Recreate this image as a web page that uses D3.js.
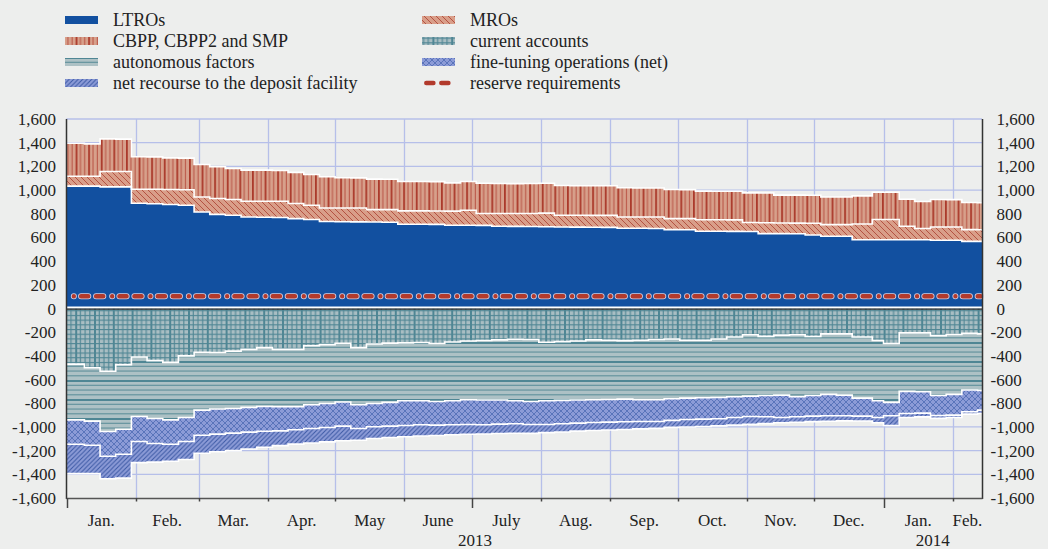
<!DOCTYPE html>
<html>
<head>
<meta charset="utf-8">
<script src="https://cdn.jsdelivr.net/npm/d3@7"></script>
<style>
  body { margin: 0; background: #edeeed; }
  svg { display: block; font-family: "Liberation Serif", "Times New Roman", serif; }
</style>
</head>
<body>
<svg id="chart" width="1048" height="549"></svg>
<script>
// Weekly observation dates (EUR billions, liquidity-providing above zero, absorbing below)
const weekDates = [
  "2013-01-01","2013-01-09","2013-01-16","2013-01-23","2013-01-30","2013-02-06","2013-02-13","2013-02-20","2013-02-27",
  "2013-03-06","2013-03-13","2013-03-20","2013-03-27","2013-04-03","2013-04-10","2013-04-17","2013-04-24",
  "2013-05-01","2013-05-08","2013-05-15","2013-05-22","2013-05-29","2013-06-05","2013-06-12","2013-06-19","2013-06-26",
  "2013-07-03","2013-07-10","2013-07-17","2013-07-24","2013-07-31","2013-08-07","2013-08-14","2013-08-21","2013-08-28",
  "2013-09-04","2013-09-11","2013-09-18","2013-09-25","2013-10-02","2013-10-09","2013-10-16","2013-10-23","2013-10-30",
  "2013-11-06","2013-11-13","2013-11-20","2013-11-27","2013-12-04","2013-12-11","2013-12-18","2013-12-27",
  "2014-01-01","2014-01-08","2014-01-15","2014-01-22","2014-01-29","2014-02-05","2014-02-12"
];
const endDate = "2014-02-14";

const ltro = [1033,1033,1027,1027,889,885,878,872,815,795,787,772,770,768,759,751,735,733,731,730,728,711,711,710,703,703,702,694,693,692,690,688,687,686,685,677,677,676,666,665,652,652,651,650,632,632,631,621,610,610,581,581,581,581,580,576,576,567,567];
const mro = [84,84,130,130,118,122,127,131,127,134,133,134,136,137,127,121,114,116,117,105,107,113,113,113,119,126,100,108,109,110,115,99,100,100,101,96,96,96,93,94,97,97,97,76,92,90,90,99,98,98,132,170,170,113,95,112,112,99,98];
const cbpp = [278,273,275,273,274,273,267,267,274,268,262,262,262,260,263,260,263,255,255,257,256,248,248,248,239,243,256,253,252,254,252,251,250,250,250,246,245,245,246,245,242,241,242,250,251,235,236,236,234,234,238,231,231,229,228,232,231,229,228];

const currentAccounts = [-470,-500,-530,-475,-410,-440,-455,-400,-370,-372,-360,-345,-330,-345,-345,-315,-305,-294,-330,-300,-292,-290,-287,-295,-283,-275,-270,-265,-260,-262,-285,-280,-275,-265,-268,-271,-268,-262,-257,-268,-268,-258,-240,-222,-235,-225,-222,-237,-214,-214,-240,-270,-295,-206,-206,-229,-220,-210,-214];
const autonomousFactors = [-470,-451,-508,-544,-502,-489,-485,-520,-488,-477,-484,-490,-497,-485,-485,-498,-497,-496,-483,-502,-501,-489,-492,-490,-496,-495,-503,-508,-519,-523,-494,-496,-498,-505,-500,-494,-502,-508,-505,-489,-486,-493,-505,-518,-499,-506,-523,-497,-511,-517,-517,-509,-498,-494,-497,-505,-505,-478,-477];
const fineTuning = [-206,-203,-209,-211,-211,-211,-206,-203,-212,-212,-208,-209,-209,-203,-194,-200,-203,-203,-200,-197,-200,-209,-203,-200,-203,-209,-209,-203,-194,-194,-200,-197,-195,-192,-191,-191,-184,-184,-183,-180,-180,-180,-175,-172,-180,-189,-169,-175,-181,-175,-152,-141,-113,-186,-180,-169,-175,-184,-167];
const depositFacility = [-248,-240,-190,-202,-178,-157,-144,-152,-152,-149,-148,-142,-136,-125,-121,-123,-121,-123,-100,-98,-96,-95,-95,-87,-84,-83,-77,-80,-80,-75,-69,-70,-67,-68,-67,-66,-62,-58,-59,-63,-62,-60,-65,-66,-58,-45,-46,-46,-46,-43,-41,-45,-82,-34,-32,-25,-20,-20,-28];

const reserveDates = ["2013-01-01", "2014-02-14"];
const reserveRequirements = [104, 104];

const yTickValues = [-1600,-1400,-1200,-1000,-800,-600,-400,-200,0,200,400,600,800,1000,1200,1400,1600];
const monthLabels = ["Jan.","Feb.","Mar.","Apr.","May","June","July","Aug.","Sep.","Oct.","Nov.","Dec.","Jan.","Feb."];
const yearLabels = ["2013","2014"];

const seriesKeys = ["ltro","mro","cbpp","currentAccounts","autonomousFactors","fineTuning","depositFacility"];
const legendLabels = {
  ltro: "LTROs", mro: "MROs", cbpp: "CBPP, CBPP2 and SMP", currentAccounts: "current accounts",
  autonomousFactors: "autonomous factors", fineTuning: "fine-tuning operations (net)",
  depositFacility: "net recourse to the deposit facility", reserve: "reserve requirements"
};

// ---------------------------------------------------------------------------
const parse = d3.utcParse("%Y-%m-%d");
const svg = d3.select("#chart");
const plot = { left: 66.5, right: 982, top: 119, bottom: 498 };

const x = d3.scaleUtc().domain([parse("2013-01-01"), parse(endDate)]).range([plot.left, plot.right]);
const y = d3.scaleLinear().domain([-1600, 1600]).range([plot.bottom, plot.top]);

// fill patterns
const defs = svg.append("defs");
function pattern(id, w, h, bg, draw) {
  const p = defs.append("pattern").attr("id", id).attr("patternUnits", "userSpaceOnUse")
    .attr("width", w).attr("height", h);
  p.append("rect").attr("width", w).attr("height", h).attr("fill", bg);
  draw(p);
}
pattern("pMro", 6, 6, "#d99e89", p => p.append("path")
  .attr("d", "M0,0L6,6M-1,5L1,7M5,-1L7,1").attr("stroke", "#b04a3a").attr("stroke-width", 0.9));
pattern("pCbpp", 12.6, 10, "#d7a08b", p => {
  p.append("rect").attr("x", 0).attr("width", 1.8).attr("height", 10).attr("fill", "#ab3a2b");
  p.append("rect").attr("x", 4.4).attr("width", 0.9).attr("height", 10).attr("fill", "#b4483a");
  p.append("rect").attr("x", 8.6).attr("width", 0.9).attr("height", 10).attr("fill", "#b4483a");
});
const teal = "#4f8694";
pattern("pCur", 18.8, 4.7, "#a9bec3", p => {
  p.append("rect").attr("y", 0).attr("width", 18.8).attr("height", 1.1).attr("fill", teal);
  p.append("rect").attr("x", 0).attr("width", 2).attr("height", 4.7).attr("fill", teal);
  [4.7, 9.4, 14.1].forEach(v => p.append("rect").attr("x", v).attr("width", 1.1).attr("height", 4.7).attr("fill", teal));
});
pattern("pAut", 10, 19, "#adc1c5", p => {
  p.append("rect").attr("y", 0).attr("width", 10).attr("height", 2).attr("fill", teal);
  [4.75, 9.5, 14.25].forEach(v => p.append("rect").attr("y", v).attr("width", 10).attr("height", 1.1).attr("fill", "#5f909b"));
});
pattern("pFt", 6, 6, "#8c9bd7", p => p.append("path")
  .attr("d", "M0,0L6,6M-1,5L1,7M5,-1L7,1M0,6L6,0M-1,1L1,-1M5,7L7,5")
  .attr("stroke", "#4d69b3").attr("stroke-width", 0.8));
pattern("pDep", 4.5, 4.5, "#8c9bd7", p => p.append("path")
  .attr("d", "M0,4.5L4.5,0M-1,1L1,-1M3.5,5.5L5.5,3.5")
  .attr("stroke", "#3b58a4").attr("stroke-width", 1));

const fills = {
  ltro: "#1250a0", mro: "url(#pMro)", cbpp: "url(#pCbpp)", currentAccounts: "url(#pCur)",
  autonomousFactors: "url(#pAut)", fineTuning: "url(#pFt)", depositFacility: "url(#pDep)"
};

// gridlines
const gridColor = "#b6bfe9";
const grid = svg.append("g");
yTickValues.filter(v => v !== 0 && v !== -1600).forEach(v => {
  grid.append("line").attr("x1", plot.left).attr("x2", plot.right)
    .attr("y1", y(v)).attr("y2", y(v)).attr("stroke", gridColor).attr("stroke-width", 1.3);
});
const monthStarts = d3.utcMonths(parse("2013-01-01"), parse(endDate));
monthStarts.slice(1).forEach(m => {
  grid.append("line").attr("x1", Math.round(x(m)) + 0.5).attr("x2", Math.round(x(m)) + 0.5)
    .attr("y1", plot.top).attr("y2", plot.bottom).attr("stroke", gridColor).attr("stroke-width", 1.3);
});

// stacked data
const rows = weekDates.map((d, i) => ({
  date: parse(d), ltro: ltro[i], mro: mro[i], cbpp: cbpp[i],
  currentAccounts: currentAccounts[i], autonomousFactors: autonomousFactors[i],
  fineTuning: fineTuning[i], depositFacility: depositFacility[i]
}));
rows.push(Object.assign({}, rows[rows.length - 1], { date: parse(endDate) }));

const stacked = d3.stack().keys(seriesKeys).offset(d3.stackOffsetDiverging)(rows);

const area = d3.area().curve(d3.curveStepAfter)
  .x(d => x(d.data.date)).y0(d => y(d[0])).y1(d => y(d[1]));

svg.append("g").selectAll("path").data(stacked).join("path")
  .attr("d", area).attr("fill", s => fills[s.key]);

// white outer edges of each band
const edge = d3.line().curve(d3.curveStepAfter).x(d => x(d.data.date));
svg.append("g").selectAll("path").data(stacked).join("path")
  .attr("d", s => edge.y(d => y(d[1] > 0 ? d[1] : d[0]))(s))
  .attr("fill", "none").attr("stroke", "#ffffff").attr("stroke-width", 1.6);

// reserve requirements
const dash = "0,7.25,7.2,7.8,7.2,8.88";
const resLine = d3.line().x(d => x(d.date)).y(d => y(d.v));
const resData = reserveDates.map((d, i) => ({ date: parse(d), v: reserveRequirements[i] }));
resData[1].date = new Date(+resData[1].date - 86400000 * 0.5);
svg.append("path").attr("d", resLine(resData)).attr("fill", "none")
  .attr("stroke", "#d6cfe3").attr("stroke-width", 6).attr("stroke-linecap", "round")
  .attr("stroke-dasharray", dash).attr("stroke-dashoffset", 31);
svg.append("path").attr("d", resLine(resData)).attr("fill", "none")
  .attr("stroke", "#b23a2c").attr("stroke-width", 4.4).attr("stroke-linecap", "round")
  .attr("stroke-dasharray", dash).attr("stroke-dashoffset", 31);

// zero separator
svg.append("line").attr("x1", plot.left).attr("x2", plot.right).attr("y1", y(0) - 1).attr("y2", y(0) - 1)
  .attr("stroke", "#ffffff").attr("stroke-width", 2.2);
svg.append("line").attr("x1", plot.left).attr("x2", plot.right).attr("y1", y(0) + 0.6).attr("y2", y(0) + 0.6)
  .attr("stroke", "#2b2b2b").attr("stroke-width", 1.1);

// axes frame
const axisColor = "#333333";
svg.append("line").attr("x1", plot.left).attr("x2", plot.left).attr("y1", plot.top).attr("y2", plot.bottom + 1)
  .attr("stroke", axisColor).attr("stroke-width", 1.5);
svg.append("line").attr("x1", plot.right + 0.5).attr("x2", plot.right + 0.5).attr("y1", plot.top).attr("y2", plot.bottom + 1)
  .attr("stroke", axisColor).attr("stroke-width", 1.5);
svg.append("line").attr("x1", plot.left).attr("x2", plot.right + 0.5).attr("y1", plot.bottom + 0.5).attr("y2", plot.bottom + 0.5)
  .attr("stroke", "#555555").attr("stroke-width", 1.5);

// month ticks and labels
const xAxis = svg.append("g");
monthStarts.forEach((m, i) => {
  const px = Math.round(x(m)) + 0.5;
  const long = m.getUTCMonth() === 0 || m.getUTCMonth() === 6;
  xAxis.append("line").attr("x1", px).attr("x2", px).attr("y1", plot.bottom).attr("y2", plot.bottom + (long ? 10 : 3.5))
    .attr("stroke", "#444").attr("stroke-width", 1.5);
  const next = i + 1 < monthStarts.length ? monthStarts[i + 1] : parse(endDate);
  xAxis.append("text").attr("x", (x(m) + x(next)) / 2).attr("y", 526)
    .attr("text-anchor", "middle").attr("font-size", 17).attr("fill", "#222").text(monthLabels[i]);
});
const yearBounds = [[parse("2013-01-01"), parse("2014-01-01")], [parse("2014-01-01"), parse(endDate)]];
yearLabels.forEach((t, i) => {
  xAxis.append("text").attr("x", (x(yearBounds[i][0]) + x(yearBounds[i][1])) / 2).attr("y", 546)
    .attr("text-anchor", "middle").attr("font-size", 17).attr("fill", "#222").text(t);
});

// value labels on both sides
const fmt = v => (v < 0 ? "-" : "") + d3.format(",")(Math.abs(v));
const yAxis = svg.append("g").attr("font-size", 17).attr("fill", "#222");
yTickValues.forEach(v => {
  yAxis.append("text").attr("x", 56).attr("y", y(v) + 6).attr("text-anchor", "end").text(fmt(v));
  yAxis.append("text").attr("x", v < 0 ? 990.5 : 996.5).attr("y", y(v) + 6).attr("text-anchor", "start").text(fmt(v));
});

// legend
const legendItems = [
  { key: "ltro", col: 0, row: 0 }, { key: "cbpp", col: 0, row: 1 },
  { key: "autonomousFactors", col: 0, row: 2 }, { key: "depositFacility", col: 0, row: 3 },
  { key: "mro", col: 1, row: 0 }, { key: "currentAccounts", col: 1, row: 1 },
  { key: "fineTuning", col: 1, row: 2 }, { key: "reserve", col: 1, row: 3 }
];
const legend = svg.append("g");
const colX = [65, 422], rowY = [20, 41, 62, 83];
legendItems.forEach(it => {
  const lx = colX[it.col], ly = rowY[it.row];
  if (it.key === "reserve") {
    legend.append("line").attr("x1", lx + 2).attr("x2", lx + 33).attr("y1", ly).attr("y2", ly)
      .attr("stroke", "#b23a2c").attr("stroke-width", 4.4).attr("stroke-linecap", "round")
      .attr("stroke-dasharray", dash).attr("stroke-dashoffset", 5);
  } else {
    legend.append("rect").attr("x", lx).attr("y", ly - 4).attr("width", 33).attr("height", 8)
      .attr("fill", fills[it.key]);
  }
  legend.append("text").attr("x", lx + 48).attr("y", ly + 6).attr("font-size", 18).attr("fill", "#222")
    .text(legendLabels[it.key]);
});
</script>
</body>
</html>
